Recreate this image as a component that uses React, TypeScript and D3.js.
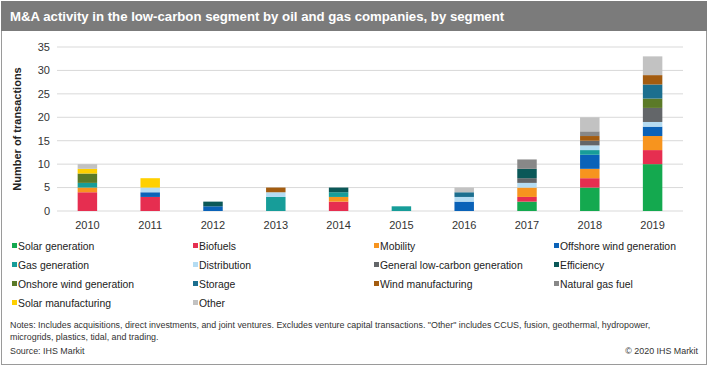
import * as d3 from "d3";

const years = ["2010", "2011", "2012", "2013", "2014", "2015", "2016", "2017", "2018", "2019"];

const solarGeneration = [0, 0, 0, 0, 0, 0, 0, 2, 5, 10];
const biofuels = [4, 3, 0, 0, 2, 0, 0, 1, 2, 3];
const mobility = [1, 0, 0, 0, 1, 0, 0, 2, 2, 3];
const offshoreWind = [0, 1, 1, 0, 0, 0, 2, 0, 3, 2];
const gasGeneration = [1, 0, 0, 3, 1, 1, 0, 0, 1, 0];
const distribution = [0, 1, 0, 1, 0, 0, 1, 1, 1, 1];
const generalLowCarbon = [0, 0, 0, 0, 0, 0, 0, 1, 1, 3];
const efficiency = [0, 0, 1, 0, 1, 0, 0, 2, 0, 0];
const onshoreWind = [2, 0, 0, 0, 0, 0, 0, 0, 0, 2];
const storage = [0, 0, 0, 0, 0, 0, 1, 0, 0, 3];
const windManufacturing = [0, 0, 0, 1, 0, 0, 0, 0, 1, 2];
const naturalGasFuel = [0, 0, 0, 0, 0, 0, 0, 2, 1, 0];
const solarManufacturing = [1, 2, 0, 0, 0, 0, 0, 0, 0, 0];
const other = [1, 0, 0, 0, 0, 0, 1, 0, 3, 4];

const yTicks = [0, 5, 10, 15, 20, 25, 30, 35];

const series = [
  { name: "Solar generation", values: solarGeneration, color: "#14a94f" },
  { name: "Biofuels", values: biofuels, color: "#e62e50" },
  { name: "Mobility", values: mobility, color: "#f7941e" },
  { name: "Offshore wind generation", values: offshoreWind, color: "#0a62b8" },
  { name: "Gas generation", values: gasGeneration, color: "#179d99" },
  { name: "Distribution", values: distribution, color: "#b5dcf2" },
  { name: "General low-carbon generation", values: generalLowCarbon, color: "#636669" },
  { name: "Efficiency", values: efficiency, color: "#0b5858" },
  { name: "Onshore wind generation", values: onshoreWind, color: "#5b7a28" },
  { name: "Storage", values: storage, color: "#1c6f8f" },
  { name: "Wind manufacturing", values: windManufacturing, color: "#a35c10" },
  { name: "Natural gas fuel", values: naturalGasFuel, color: "#888888" },
  { name: "Solar manufacturing", values: solarManufacturing, color: "#ffd000" },
  { name: "Other", values: other, color: "#c2c2c2" },
];

const W = 709;
const H = 368;
const font = "'Liberation Sans', Arial, sans-serif";

export default function App() {
  const rows = years.map((y, i) => {
    const r: { [k: string]: number | string } = { year: y };
    series.forEach((s) => (r[s.name] = s.values[i]));
    return r;
  });
  const stacked = d3.stack<any>().keys(series.map((s) => s.name))(rows);

  const x = d3.scaleBand().domain(years).range([56, 684]).paddingInner(0.69).paddingOuter(0.345);
  const y = d3.scaleLinear().domain([0, 35]).range([211, 47]);

  const legX = [12, 193, 374, 554];
  const legY = [246, 265, 284, 303];

  return (
    <svg width={W} height={H} style={{ position: "absolute", left: 0, top: 0 }} fontFamily={font}>
      <rect x={0} y={0} width={W} height={H} fill="#fff" />
      <rect x={1.5} y={1.5} width={W - 4} height={H - 5} fill="none" stroke="#9a9a9a" strokeWidth={1} />
      <rect x={1} y={1} width={W - 3} height={30} fill="#7b7b7b" />
      <text x={10} y={21} fill="#fff" fontSize={13.2} fontWeight="bold">
        M&amp;A activity in the low-carbon segment by oil and gas companies, by segment
      </text>

      {yTicks.map((t) => (
        <g key={`yt-${t}`}>
          <line x1={57} x2={683} y1={y(t)} y2={y(t)} stroke="#d9d9d9" strokeWidth={1} />
          <text x={50} y={y(t)} dy="0.35em" textAnchor="end" fontSize={11} fill="#333">
            {t}
          </text>
        </g>
      ))}

      <text
        transform={`translate(21,${(y(0) + y(35)) / 2}) rotate(-90)`}
        textAnchor="middle"
        fontSize={11}
        fontWeight="bold"
        fill="#222"
      >
        Number of transactions
      </text>

      {stacked.map((layer, li) => (
        <g key={`layer-${li}`} fill={series[li].color}>
          {layer.map((d, i) =>
            d[1] - d[0] > 0 ? (
              <rect
                key={`r-${li}-${i}`}
                x={x(years[i])}
                y={y(d[1])}
                width={x.bandwidth()}
                height={y(d[0]) - y(d[1])}
              />
            ) : null
          )}
        </g>
      ))}

      {years.map((yr) => (
        <text
          key={`xl-${yr}`}
          x={(x(yr) || 0) + x.bandwidth() / 2}
          y={229}
          textAnchor="middle"
          fontSize={11}
          fill="#333"
        >
          {yr}
        </text>
      ))}

      {series.map((s, i) => {
        const lx = legX[i % 4];
        const ly = legY[Math.floor(i / 4)];
        return (
          <g key={`leg-${i}`}>
            <rect x={lx} y={ly - 3} width={5} height={5} fill={s.color} />
            <text x={lx + 6} y={ly} dy="0.35em" fontSize={10.4} fill="#222">
              {s.name}
            </text>
          </g>
        );
      })}

      <g fontSize={8.9} fill="#333">
        <text x={10} y={328}>
          Notes: Includes acquisitions, direct investments, and joint ventures. Excludes venture capital transactions. "Other" includes CCUS, fusion, geothermal, hydropower,
        </text>
        <text x={10} y={340}>
          microgrids, plastics, tidal, and trading.
        </text>
        <text x={10} y={354}>
          Source: IHS Markit
        </text>
        <text x={698} y={354} textAnchor="end">
          © 2020 IHS Markit
        </text>
      </g>
    </svg>
  );
}
